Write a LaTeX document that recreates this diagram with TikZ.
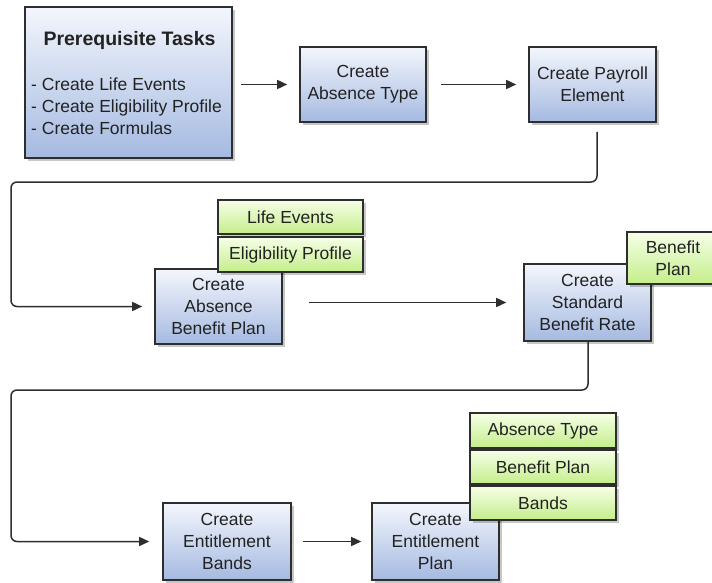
\documentclass[tikz,border=0pt]{standalone}
\usepackage{fontspec}
\setmainfont{Liberation Sans}
\usetikzlibrary{arrows.meta,shadows}
\definecolor{bluetop}{HTML}{F3F6FC}
\definecolor{bluebot}{HTML}{A5BAE1}
\definecolor{greentop}{HTML}{F6FFE8}
\definecolor{greenbot}{HTML}{C4EE8A}
\definecolor{bord}{HTML}{2E2E2E}
\definecolor{txt}{HTML}{222222}
\begin{document}
\begin{tikzpicture}[x=1pt,y=-1pt,
  every node/.style={font=\fontsize{17.5}{22}\selectfont, text=txt},
  boxbase/.style={draw=bord, line width=1.6pt, align=center, inner sep=0pt,
    drop shadow={shadow xshift=3pt, shadow yshift=-3pt, fill=black, opacity=0.22}},
  bluebox/.style={boxbase, top color=bluetop, bottom color=bluebot},
  greenbox/.style={boxbase, top color=greentop, bottom color=greenbot},
  conn/.style={draw=bord, line width=1.5pt, -{Triangle[length=10pt,width=9pt]}, rounded corners=6pt}]
\useasboundingbox (0,0) rectangle (712,583);
\clip (0,0) rectangle (712,583);
\fill[white] (0,0) rectangle (712,583);

% blue boxes
\node[bluebox, minimum width=207pt, minimum height=151pt] (pre) at (128.5,82.5) {};
\node[font=\bfseries\fontsize{19.5}{23}\selectfont, inner sep=0pt] (preT) at (129.5,40) {Prerequisite Tasks};
\node[anchor=west, align=left, inner sep=0pt, font=\fontsize{17.5}{22}\selectfont] (preL) at (31,106) {- Create Life Events\\- Create Eligibility Profile\\- Create Formulas};

\node[bluebox, minimum width=126pt, minimum height=75pt] (absType) at (363,84.5) {Create\\Absence Type};
\node[bluebox, minimum width=127pt, minimum height=75pt] (payroll) at (592.5,84.5) {Create Payroll\\Element};
\node[bluebox, minimum width=127pt, minimum height=75pt] (absPlan) at (218.5,306.5) {Create\\Absence\\Benefit Plan};
\node[bluebox, minimum width=127pt, minimum height=77pt] (stdRate) at (587.5,302.5) {Create\\Standard\\Benefit Rate};
\node[bluebox, minimum width=128pt, minimum height=77pt] (entBands) at (227,541.5) {Create\\Entitlement\\Bands};
\node[bluebox, minimum width=127pt, minimum height=77pt] (entPlan) at (435.5,541.5) {Create\\Entitlement\\Plan};

% green boxes
\node[greenbox, minimum width=145pt, minimum height=34pt] (lifeEv) at (290.5,217) {Life Events};
\node[greenbox, minimum width=145pt, minimum height=35pt] (elig) at (290.5,254.5) {Eligibility Profile};
\node[greenbox, minimum width=92pt, minimum height=52pt] (bpA) at (673,258) {Benefit\\Plan};
\node[greenbox, minimum width=146pt, minimum height=35pt] (absTypeG) at (543,430.5) {Absence Type};
\node[greenbox, minimum width=146pt, minimum height=34pt] (bpB) at (543,467) {Benefit Plan};
\node[greenbox, minimum width=146pt, minimum height=34pt] (bandsG) at (543,503) {Bands};

% connectors
\draw[conn, shorten <=8pt, shorten >=12pt] (pre.east |- absType.west) -- (absType.west);
\draw[conn, shorten <=14pt, shorten >=12pt] (absType.east) -- (payroll.west);
\draw[conn] ([xshift=4.5pt,yshift=-9pt]payroll.south) |- (11,182) |- ([xshift=-12pt]absPlan.west);
\draw[conn, shorten <=26pt, shorten >=17pt] (absPlan.east |- stdRate.west) -- (stdRate.west);
\draw[conn] ([xshift=0.5pt]stdRate.south) |- (11,390) |- ([xshift=-13pt]entBands.west);
\draw[conn, shorten <=11pt, shorten >=10pt] (entBands.east) -- (entPlan.west);
\end{tikzpicture}
\end{document}
